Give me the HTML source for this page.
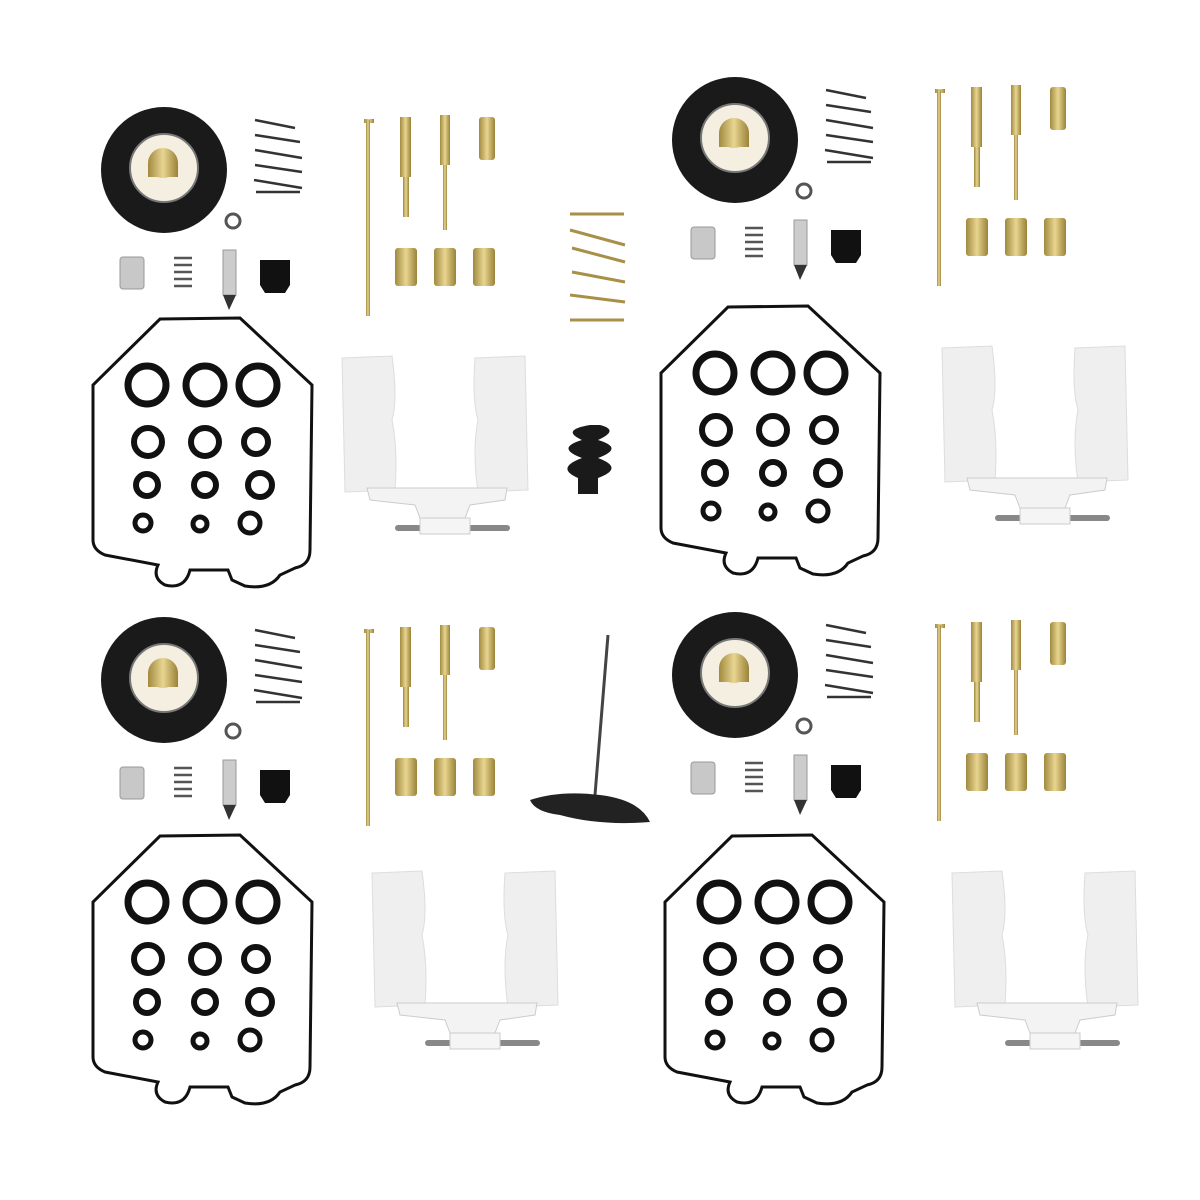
<!DOCTYPE html>
<html><head><meta charset="utf-8"><style>html,body{margin:0;padding:0;background:#fff}svg{display:block}</style></head>
<body>
<svg width="1200" height="1200" viewBox="0 0 1200 1200" xmlns="http://www.w3.org/2000/svg">
<defs>
<linearGradient id="gold" x1="0" x2="1"><stop offset="0" stop-color="#a08a40"/><stop offset="0.5" stop-color="#e8d590"/><stop offset="1" stop-color="#9a8238"/></linearGradient>
<g id="top">
  <circle cx="164" cy="170" r="63" fill="#1a1a1a"/>
  <circle cx="164" cy="168" r="34" fill="#f4efe0" stroke="#777" stroke-width="2"/>
  <circle cx="163" cy="163" r="15" fill="url(#gold)"/>
  <rect x="148" y="163" width="30" height="14" fill="url(#gold)"/>
  <path d="M255,120 L295,128 M255,135 L300,142 M255,150 L302,158 M255,165 L302,172 M254,180 L302,188 M256,192 L300,192" stroke="#333" stroke-width="2.5" fill="none"/>
  <circle cx="233" cy="221" r="7" fill="none" stroke="#555" stroke-width="3"/>
  <rect x="120" y="257" width="24" height="32" rx="3" fill="#c8c8c8" stroke="#999"/>
  <path d="M174,258 h18 M174,265 h18 M174,272 h18 M174,279 h18 M174,286 h18" stroke="#555" stroke-width="2.5"/>
  <rect x="223" y="250" width="13" height="45" fill="#ccc" stroke="#999"/>
  <path d="M223,295 L229,310 L236,295 Z" fill="#333"/>
  <path d="M260,260 h30 v25 l-5,8 h-20 l-5,-8 z" fill="#111"/>
  <rect x="364" y="119" width="10" height="4" fill="url(#gold)"/>
  <rect x="366" y="120" width="4" height="196" fill="url(#gold)"/>
  <rect x="400" y="117" width="11" height="60" fill="url(#gold)"/>
  <rect x="403" y="177" width="6" height="40" fill="url(#gold)"/>
  <rect x="440" y="115" width="10" height="50" fill="url(#gold)"/>
  <rect x="443" y="165" width="4" height="65" fill="url(#gold)"/>
  <rect x="479" y="117" width="16" height="43" rx="3" fill="url(#gold)"/>
  <rect x="395" y="248" width="22" height="38" rx="3" fill="url(#gold)"/>
  <rect x="434" y="248" width="22" height="38" rx="3" fill="url(#gold)"/>
  <rect x="473" y="248" width="22" height="38" rx="3" fill="url(#gold)"/>
</g>
<g id="gasket" fill="none" stroke="#111">
  <path d="M160,319 L240,318 L312,385 L310,550 Q310,565 295,568 L280,575 Q270,590 245,586 L232,580 L228,570 L190,570 Q185,590 165,585 Q152,578 158,565 L105,555 Q93,550 93,540 L93,385 Z" stroke-width="3"/>
  <g stroke-width="7">
    <circle cx="147" cy="385" r="19"/><circle cx="205" cy="385" r="19"/><circle cx="258" cy="385" r="19"/>
  </g>
  <g stroke-width="6">
    <circle cx="148" cy="442" r="14"/><circle cx="205" cy="442" r="14"/><circle cx="256" cy="442" r="12"/>
    <circle cx="147" cy="485" r="11"/><circle cx="205" cy="485" r="11"/><circle cx="260" cy="485" r="12"/>
  </g>
  <g stroke-width="5">
    <circle cx="143" cy="523" r="8"/><circle cx="200" cy="524" r="7"/><circle cx="250" cy="523" r="10"/>
  </g>
</g>
<g id="float">
  <path d="M342,358 L392,356 Q398,400 392,420 Q398,450 395,490 L345,492 Z" fill="#efefef" stroke="#ddd"/>
  <path d="M475,358 L525,356 L528,490 L478,492 Q472,450 478,420 Q472,400 475,358 Z" fill="#efefef" stroke="#ddd"/>
  <path d="M367,488 L507,488 L505,500 L470,505 L465,518 L420,518 L415,505 L370,500 Z" fill="#f3f3f3" stroke="#ccc"/>
  <rect x="395" y="525" width="115" height="6" rx="3" fill="#888"/>
  <rect x="420" y="518" width="50" height="16" fill="#f5f5f5" stroke="#ccc"/>
</g>
</defs>
<rect width="1200" height="1200" fill="#fff"/>
<use href="#top"/>
<use href="#gasket"/>
<use href="#float"/>
<use href="#top" transform="translate(571,-30)"/>
<use href="#gasket" transform="translate(568,-12)"/>
<use href="#float" transform="translate(600,-10)"/>
<use href="#top" transform="translate(0,510)"/>
<use href="#gasket" transform="translate(0,517)"/>
<use href="#float" transform="translate(30,515)"/>
<use href="#top" transform="translate(571,505)"/>
<use href="#gasket" transform="translate(572,517)"/>
<use href="#float" transform="translate(610,515)"/>
<path d="M570,214 L624,214 M570,230 L625,245 M572,248 L625,262 M572,272 L625,282 M570,295 L625,302 M570,320 L624,320" stroke="#a89048" stroke-width="3" fill="none"/>
<path d="M590,425 L600,425 Q620,430 598,440 Q625,448 598,458 Q625,468 598,478 L598,494 L578,494 L578,478 Q555,468 582,458 Q555,448 582,440 Q560,430 590,425 Z" fill="#1a1a1a"/>
<path d="M608,635 L595,795" stroke="#444" stroke-width="3"/>
<path d="M530,800 Q560,790 600,795 Q640,800 650,822 Q600,826 560,815 Q535,812 530,800 Z" fill="#222"/>
</svg>
</body></html>
